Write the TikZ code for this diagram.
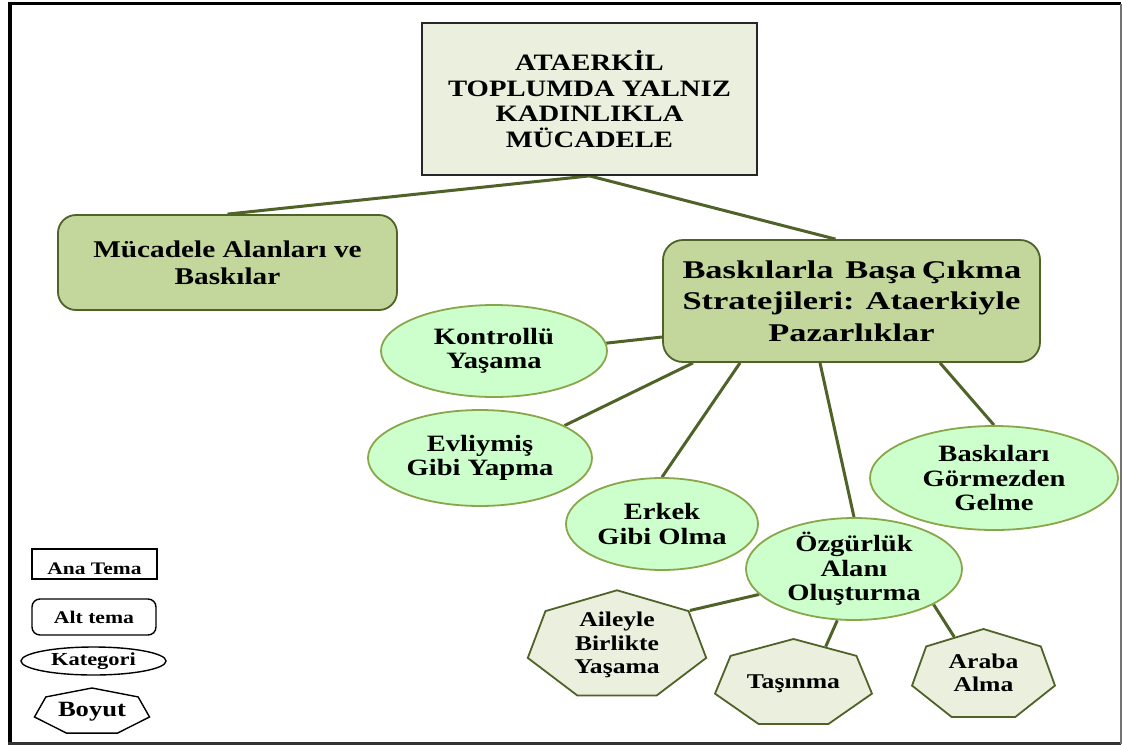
\documentclass[tikz,border=0pt]{standalone}
\usepackage{fontspec}
\setmainfont{Liberation Serif}[FakeStretch=1.22]
\newfontfamily\widefont{Liberation Serif}[FakeStretch=1.35]
\usetikzlibrary{shapes.geometric,calc}
\definecolor{titlefill}{HTML}{EBF0DE}
\definecolor{boxfill}{HTML}{C3D69B}
\definecolor{olivedark}{HTML}{4F6228}
\definecolor{ellfill}{HTML}{CCFFCC}
\definecolor{ellline}{HTML}{89A64A}
\definecolor{heptfill}{HTML}{EBF0DE}
\pgfdeclarelayer{bg}
\pgfsetlayers{bg,main}
\newcommand{\ftsize}[2]{\bfseries\fontsize{#1}{#2}\selectfont}
\newcommand{\lines}[1]{\begin{tabular}{@{}c@{}}#1\end{tabular}}
\begin{document}
\begin{tikzpicture}[x=1pt,y=-1pt,
  mainbox/.style={draw=black!85, line width=1.8pt, fill=titlefill, inner sep=0,
    align=center, font=\ftsize{23.5}{25.7}},
  subbox/.style={draw=olivedark, line width=1.8pt, fill=boxfill, inner sep=0,
    rounded corners=18pt, align=center},
  catell/.style={ellipse, draw=ellline, line width=1.8pt, fill=ellfill, inner xsep=0,
    inner ysep=-4pt, align=center, font=\ftsize{23.4}{24.5}},
  hept/.style={regular polygon, regular polygon sides=7, draw=olivedark,
    line width=1.8pt, fill=heptfill, inner sep=0, transform shape,
    font=\ftsize{21}{23.5}},
  link/.style={draw=olivedark, line width=3pt},
  legbox/.style={draw=black, line width=1.4pt, fill=white, inner sep=0,
    font=\ftsize{17.6}{19}},
]
\useasboundingbox (0,0) rectangle (1122,745);
\begin{pgfonlayer}{bg}
  \fill[white] (0,0) rectangle (1122,745);
\end{pgfonlayer}

% outer frame
\draw[line width=3.5pt] (8,3.5) -- (1121,3.5);
\draw[line width=4pt] (10,2) -- (10,743.5);
\draw[line width=3pt, black!80] (8,743.5) -- (1121,743.5);
\draw[line width=1.5pt, black!55] (1121,3.5) -- (1121,743.5);

% main theme
\node[mainbox, minimum width=335, minimum height=152] (title) at (589.5,99)
  {ATAERKİL\\TOPLUMDA YALNIZ\\KADINLIKLA\\MÜCADELE};

% sub-themes
\node[subbox, minimum width=339, minimum height=95, font=\ftsize{24}{27}] (lbox) at (227.5,262.5)
  {Mücadele Alanları ve\\Baskılar};
\node[subbox, minimum width=377, minimum height=122, rounded corners=20pt,
  font=\widefont\ftsize{25.5}{31.5}] (rbox) at (851.5,301)
  {\makebox[338pt][s]{Baskılarla\hspace{6pt} Başa Çıkma}\\\makebox[338pt][s]{Stratejileri: Ataerkiyle}\\Pazarlıklar};

% categories
\node[catell, minimum width=226, minimum height=92] (kon) at (494,351) {Kontrollü\\Yaşama};
\node[catell, minimum width=224, minimum height=96] (evl) at (480,458) {Evliymiş\\Gibi Yapma};
\node[catell, minimum width=192, minimum height=92] (erk) at (662,524) {Erkek\\Gibi Olma};
\node[catell, minimum width=216, minimum height=102] (ozg) at (854,569) {Özgürlük\\Alanı\\Oluşturma};
\node[catell, minimum width=248, minimum height=104] (bgo) at (994,478) {Baskıları\\Görmezden\\Gelme};

% dimensions
\begin{scope}[shift={(617,645.6)}, xscale=1.654]
  \node[hept, minimum size=105.2] (ail) at (0,0) {\scalebox{0.6046}[1]{\lines{Aileyle\\Birlikte\\Yaşama}}};
\end{scope}
\begin{scope}[shift={(793.5,683.7)}, xscale=1.801]
  \node[hept, minimum size=89.4] (tas) at (0,0) {\scalebox{0.5553}[1]{Taşınma}};
\end{scope}
\begin{scope}[shift={(983.5,675.3)}, xscale=1.583]
  \node[hept, minimum size=92.6] (ara) at (0,0) {\scalebox{0.6317}[1]{\lines{Araba\\Alma}}};
\end{scope}

% legend
\node[legbox, minimum width=125, minimum height=30, text height=21pt, text depth=0pt] (lg1) at (94.5,564) {Ana Tema};
\node[legbox, minimum width=124, minimum height=36, rounded corners=8pt, font=\ftsize{17.8}{19}] (lg2) at (94,617) {Alt tema};
\node[legbox, ellipse, minimum width=145, minimum height=28, inner sep=-3pt, font=\ftsize{18.4}{19}] (lg3) at (93.5,661) {Kategori};
\begin{scope}[shift={(92,711.7)}, xscale=2.49]
  \node[hept, draw=black, line width=1.4pt, fill=white, minimum size=47.4,
    font=\ftsize{21.8}{22}] (lg4) at (0,0) {\scalebox{0.4016}[1]{Boyut}};
\end{scope}

% connectors
\begin{pgfonlayer}{bg}
  \draw[link] (title.south) -- (lbox.north);
  \draw[link] (title.south) -- ($(rbox.north)+(-16,0)$);
  \draw[link] ($(rbox.west)+(0,36)$) -- (kon.4);
  \draw[link] ($(rbox.south)+(-158.5,0)$) -- (evl.21);
  \draw[link] ($(rbox.south)+(-111.5,0)$) -- (erk.north);
  \draw[link] ($(rbox.south)+(-31.5,0)$) -- (ozg.north);
  \draw[link] ($(rbox.south)+(88.5,0)$) -- (bgo.north);
  \draw[link] (ozg.195) -- (ail.corner 7);
  \draw[link] (ozg.252) -- (tas.side 7);
  \draw[link] (ozg.336) -- (ara.side 1);
\end{pgfonlayer}
\end{tikzpicture}
\end{document}
